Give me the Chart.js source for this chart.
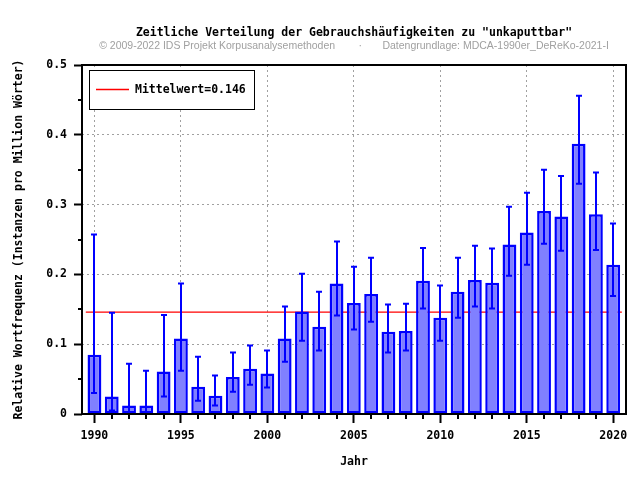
<!DOCTYPE html>
<html>
<head>
<meta charset="utf-8">
<script src="https://cdn.jsdelivr.net/npm/chart.js@4.4.1/dist/chart.umd.min.js"></script>
<style>
  html, body { margin: 0; padding: 0; background: #fff; }
</style>
</head>
<body>
<canvas id="freqChart" width="640" height="480"></canvas>
<script>
const years = [1990,1991,1992,1993,1994,1995,1996,1997,1998,1999,2000,2001,2002,2003,2004,2005,
  2006,2007,2008,2009,2010,2011,2012,2013,2014,2015,2016,2017,2018,2019,2020];
const freq = [0.085,0.025,0.012,0.012,0.061,0.108,0.039,0.026,0.053,0.065,0.058,0.108,0.147,0.125,0.187,0.159,
  0.172,0.118,0.119,0.191,0.138,0.175,0.192,0.188,0.243,0.260,0.291,0.283,0.387,0.286,0.214];
const upper = [0.257,0.145,0.072,0.062,0.142,0.187,0.082,0.055,0.088,0.098,0.091,0.154,0.201,0.175,0.247,0.211,
  0.224,0.157,0.158,0.238,0.184,0.224,0.241,0.237,0.297,0.317,0.350,0.341,0.456,0.346,0.273];
const lower = [0.030,0.005,0.002,0.002,0.025,0.062,0.019,0.012,0.032,0.042,0.038,0.075,0.105,0.091,0.141,0.121,
  0.132,0.088,0.091,0.151,0.105,0.138,0.154,0.151,0.198,0.214,0.244,0.234,0.330,0.235,0.169];
const meanValue = 0.146;
const meanLabel = 'Mittelwert=0.146';
const minorY = [0.05,0.15,0.25,0.35,0.45];

const mono = "'DejaVu Sans Mono', monospace";

// error bars, minor ticks, frame and legend box
const extras = {
  id: 'extras',
  afterDatasetsDraw(chart) {
    const { ctx, scales: { x, y } } = chart;
    ctx.save();
    ctx.strokeStyle = '#0000ff';
    ctx.lineWidth = 2;
    ctx.beginPath();
    years.forEach((yr, i) => {
      const px = Math.round(x.getPixelForValue(yr));
      const t = y.getPixelForValue(upper[i]);
      const b = y.getPixelForValue(lower[i]);
      ctx.moveTo(px, t); ctx.lineTo(px, b);
      ctx.moveTo(px - 3, t); ctx.lineTo(px + 3, t);
      ctx.moveTo(px - 3, b); ctx.lineTo(px + 3, b);
    });
    ctx.stroke();
    ctx.restore();
  },
  afterDraw(chart) {
    const { ctx, chartArea: a, scales: { x, y } } = chart;
    ctx.save();
    ctx.strokeStyle = '#000';
    ctx.lineWidth = 2;
    ctx.beginPath();
    years.forEach(yr => {
      if (yr % 5) {
        const px = Math.round(x.getPixelForValue(yr));
        ctx.moveTo(px, a.bottom); ctx.lineTo(px, a.bottom + 5);
      }
    });
    minorY.forEach(v => {
      const py = Math.round(y.getPixelForValue(v));
      ctx.moveTo(a.left - 4, py); ctx.lineTo(a.left, py);
    });
    ctx.stroke();
    ctx.strokeRect(a.left, a.top, a.right - a.left, a.bottom - a.top);

    // legend
    const lx = Math.round(a.left) + 7, ly = Math.round(a.top) + 5;
    ctx.fillStyle = '#fff';
    ctx.fillRect(lx, ly, 165, 39);
    ctx.lineWidth = 1;
    ctx.strokeStyle = '#000';
    ctx.strokeRect(lx + 0.5, ly + 0.5, 165, 39);
    ctx.strokeStyle = '#ff0000';
    ctx.lineWidth = 1.5;
    ctx.beginPath();
    ctx.moveTo(lx + 7, ly + 19.5); ctx.lineTo(lx + 40, ly + 19.5);
    ctx.stroke();
    ctx.fillStyle = '#000';
    ctx.font = 'bold 11.5px ' + mono;
    ctx.textBaseline = 'middle';
    ctx.fillText(meanLabel, lx + 46, ly + 20);
    ctx.restore();
  }
};

new Chart(document.getElementById('freqChart'), {
  type: 'bar',
  data: {
    datasets: [{
      type: 'bar',
      label: 'Frequenz',
      data: years.map((yr, i) => ({ x: yr, y: freq[i] })),
      backgroundColor: '#8080ff',
      borderColor: '#0000ff',
      borderWidth: 2.5,
      borderSkipped: false,
      barPercentage: 0.8,
      categoryPercentage: 1.0,
      order: 1
    }, {
      type: 'line',
      label: meanLabel,
      data: [{ x: years[0] - 0.5, y: meanValue }, { x: years[years.length - 1] + 0.5, y: meanValue }],
      borderColor: '#ff0000',
      borderWidth: 1.2,
      pointRadius: 0,
      order: 2
    }]
  },
  options: {
    responsive: false,
    animation: false,
    layout: { padding: { left: 0, right: 14, top: 0, bottom: 0 } },
    plugins: {
      legend: { display: false },
      tooltip: { enabled: false },
      title: {
        display: true,
        fullSize: false,
        text: 'Zeitliche Verteilung der Gebrauchshäufigkeiten zu "unkaputtbar"',
        color: '#000',
        font: { family: mono, size: 11.5, weight: 'bold', lineHeight: 1.2 },
        padding: { top: 26, bottom: 0 }
      },
      subtitle: {
        display: true,
        fullSize: false,
        text: '\u00a9 2009-2022 IDS Projekt Korpusanalysemethoden        \u00b7       Datengrundlage: MDCA-1990er_DeReKo-2021-I',
        color: '#a0a0a0',
        font: { family: "'Liberation Sans', Arial, sans-serif", size: 10.5, lineHeight: 1.2 },
        padding: { top: 0, bottom: 12.6 }
      }
    },
    scales: {
      x: {
        type: 'linear',
        min: 1989.28,
        max: 2020.74,
        offset: false,
        afterFit: s => { s.height = 66; },
        ticks: {
          stepSize: 5,
          includeBounds: false,
          color: '#000',
          padding: 6,
          maxRotation: 0,
          font: { family: mono, size: 11.5, weight: 'bold' },
          callback: v => String(v)
        },
        grid: { offset: false, color: '#a0a0a0', lineWidth: 1, tickColor: '#000', tickWidth: 2, tickLength: 9 },
        border: { display: false, dash: [2, 3] },
        title: {
          display: true,
          text: 'Jahr',
          color: '#000',
          font: { family: mono, size: 11.5, weight: 'bold', lineHeight: 1.2 },
          padding: { top: 0, bottom: 11 }
        }
      },
      y: {
        type: 'linear',
        min: 0,
        max: 0.5,
        afterFit: s => { s.width = 82; },
        ticks: {
          stepSize: 0.1,
          color: '#000',
          padding: 7,
          font: { family: mono, size: 11.5, weight: 'bold' }
        },
        grid: { color: '#a0a0a0', lineWidth: 1, tickColor: '#000', tickWidth: 2, tickLength: 8 },
        border: { display: false, dash: [2, 3] },
        title: {
          display: true,
          text: 'Relative Wortfrequenz (Instanzen pro Million Wörter)',
          color: '#000',
          font: { family: mono, size: 11.5, weight: 'bold', lineHeight: 1.2 },
          padding: { top: 12, bottom: 0 }
        }
      }
    }
  },
  plugins: [extras]
});
</script>
</body>
</html>
